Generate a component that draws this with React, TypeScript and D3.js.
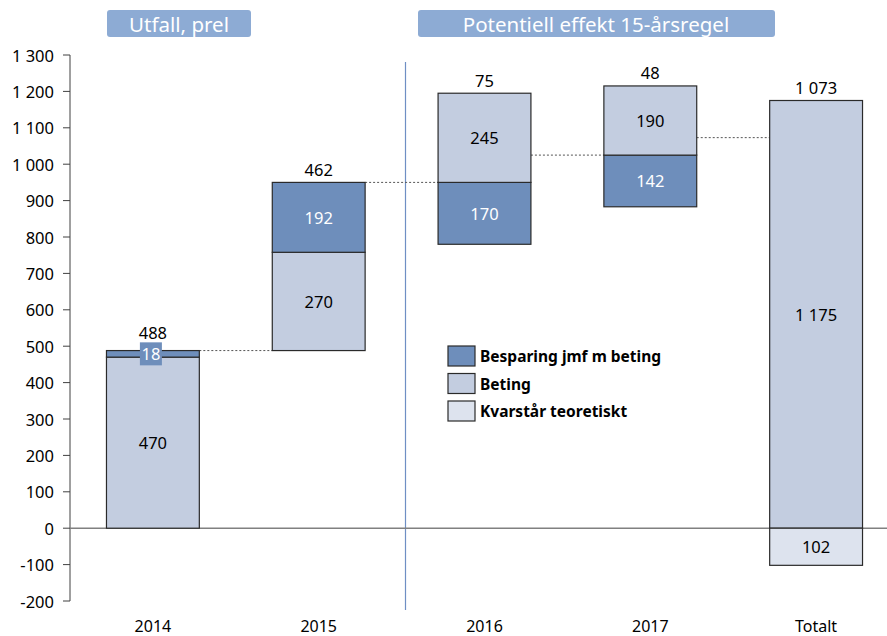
import React from 'react';
import * as d3 from 'd3';

const CATEGORIES = ['2014', '2015', '2016', '2017', 'Totalt'];
// start level of each column (waterfall base)
const BASE = [0, 488, 950, 1025, 0];
// Beting: positive step
const BETING = [470, 270, 245, 190, 1175];
// Besparing jmf m beting: on top in 2014-15, downwards in 2016-17
const BESPARING = [18, 192, -170, -142, 0];
// Kvarstår teoretiskt (only Totalt)
const KVARSTAR = [0, 0, 0, 0, -102];
const NET_LABELS = ['488', '462', '75', '48', '1 073'];
const Y_TICKS = d3.range(-200, 1301, 100);

const LEGEND = [
  { label: 'Besparing jmf m beting', color: '#6e8ebb' },
  { label: 'Beting', color: '#c3cde0' },
  { label: 'Kvarstår teoretiskt', color: '#dde3ee' },
];

const FONT = '"Noto Sans", "Open Sans", sans-serif';
const W = 887;
const H = 636;

const fmt = (v: number) => d3.format(',')(v).replace(/,/g, ' ').replace('\u2212', '-');

export default function App() {
  const x = d3.scaleBand().domain(CATEGORIES).range([70, 899]).paddingInner(0.44).paddingOuter(0.22);
  const y = d3.scaleLinear().domain([-200, 1300]).range([601, 55]);
  const bw = x.bandwidth();

  // build segments
  const segs: { cat: string; y0: number; y1: number; color: string; label: string; white: boolean; key: string }[] = [];
  CATEGORIES.forEach((c, i) => {
    const b = BASE[i];
    if (BESPARING[i] >= 0) {
      segs.push({ cat: c, y0: b, y1: b + BETING[i], color: LEGEND[1].color, label: fmt(BETING[i]), white: false, key: c + 'bt' });
      if (BESPARING[i] > 0)
        segs.push({ cat: c, y0: b + BETING[i], y1: b + BETING[i] + BESPARING[i], color: LEGEND[0].color, label: fmt(BESPARING[i]), white: true, key: c + 'bs' });
    } else {
      segs.push({ cat: c, y0: b + BESPARING[i], y1: b, color: LEGEND[0].color, label: fmt(-BESPARING[i]), white: true, key: c + 'bs' });
      segs.push({ cat: c, y0: b, y1: b + BETING[i], color: LEGEND[1].color, label: fmt(BETING[i]), white: false, key: c + 'bt' });
    }
    if (KVARSTAR[i] < 0)
      segs.push({ cat: c, y0: KVARSTAR[i], y1: 0, color: LEGEND[2].color, label: fmt(-KVARSTAR[i]), white: false, key: c + 'kv' });
  });

  const tops = CATEGORIES.map((c, i) => Math.max(BASE[i] + BETING[i] + Math.max(BESPARING[i], 0), 0));
  const ends = CATEGORIES.map((c, i) => BASE[i] + BETING[i] + BESPARING[i] + (i === 4 ? KVARSTAR[i] : 0));

  return (
    <svg width={W} height={H} style={{ position: 'absolute', left: 0, top: 0, fontFamily: FONT }}>
      <rect width={W} height={H} fill="#fff" />

      {/* headers */}
      <rect x={107} y={10} width={144} height={27} rx={3} fill="#8dabd4" />
      <text x={179} y={23.5} fill="#fff" fontSize={20.5} textAnchor="middle" dominantBaseline="central">Utfall, prel</text>
      <rect x={418} y={10} width={357} height={27} rx={3} fill="#8dabd4" />
      <text x={596} y={23.5} fill="#fff" fontSize={20.5} textAnchor="middle" dominantBaseline="central">Potentiell effekt 15-årsregel</text>

      {/* y axis */}
      <line x1={70} x2={70} y1={y(1300)} y2={y(-200)} stroke="#404040" />
      {Y_TICKS.map(t => (
        <g key={t}>
          <line x1={63} x2={70} y1={y(t)} y2={y(t)} stroke="#404040" />
          <text x={54} y={y(t)} textAnchor="end" dominantBaseline="central" fontSize={16.5} fill="#000">{fmt(t)}</text>
        </g>
      ))}

      {/* separator */}
      <line x1={405.5} x2={405.5} y1={62} y2={610} stroke="#6f8fc4" strokeWidth={1.2} />

      {/* zero line */}
      <line x1={70} x2={W} y1={y(0)} y2={y(0)} stroke="#808080" strokeWidth={1.5} />

      {/* connectors */}
      {CATEGORIES.slice(0, -1).map((c, i) => (
        <line key={c} x1={(x(c) as number) + bw} x2={x(CATEGORIES[i + 1]) as number}
          y1={y(ends[i])} y2={y(ends[i])} stroke="#555" strokeDasharray="2,2" />
      ))}

      {/* bars */}
      {segs.map(s => (
        <rect key={s.key} x={x(s.cat)} y={y(s.y1)} width={bw} height={y(s.y0) - y(s.y1)}
          fill={s.color} stroke="#2a2a2a" strokeWidth={1.2} />
      ))}

      {/* segment labels */}
      {segs.map(s => {
        const cx = (x(s.cat) as number) + bw / 2;
        const cy = y((s.y0 + s.y1) / 2);
        const small = y(s.y0) - y(s.y1) < 20;
        return (
          <g key={s.key + 'l'}>
            {small && <rect x={cx - 13} y={cy - 11.5} width={22} height={23} fill={s.color} />}
            <text x={small ? cx - 2 : cx} y={cy} textAnchor="middle" dominantBaseline="central" fontSize={16.5}
              fill={s.white ? '#fff' : '#000'}>{s.label}</text>
          </g>
        );
      })}

      {/* net labels */}
      {CATEGORIES.map((c, i) => (
        <text key={c} x={(x(c) as number) + bw / 2} y={y(tops[i]) - (i === 0 ? 18 : 13)}
          textAnchor="middle" dominantBaseline="central" fontSize={16.5} fill="#000">{NET_LABELS[i]}</text>
      ))}

      {/* x labels */}
      {CATEGORIES.map(c => (
        <text key={c} x={(x(c) as number) + bw / 2} y={632} textAnchor="middle" fontSize={16} fill="#000">{c}</text>
      ))}

      {/* legend */}
      {LEGEND.map((l, i) => (
        <g key={l.label} transform={`translate(448, ${346 + i * 27.5})`}>
          <rect width={27} height={20} fill={l.color} stroke="#2a2a2a" strokeWidth={1.2} />
          <text x={32} y={10} dominantBaseline="central" fontSize={15.5} fontWeight="bold" fill="#000">{l.label}</text>
        </g>
      ))}
    </svg>
  );
}
